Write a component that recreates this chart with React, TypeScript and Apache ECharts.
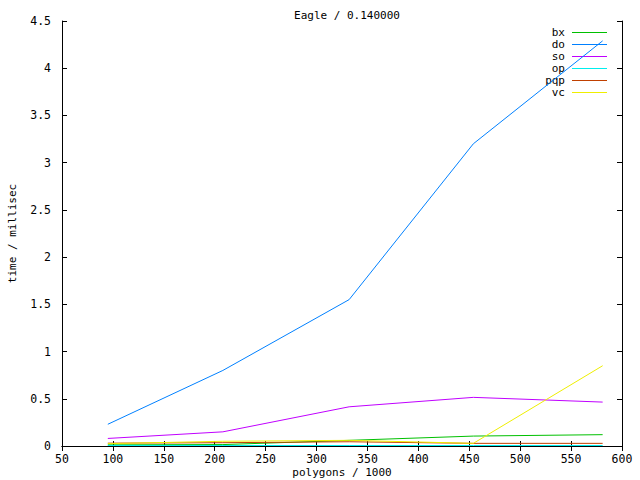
import React, { useEffect, useRef } from "react";
import * as echarts from "echarts";

const polygons = [95, 208, 332, 454, 581];
const bxTimes = [0.012, 0.015, 0.06, 0.105, 0.12];
const doTimes = [0.23, 0.8, 1.55, 3.2, 4.29];
const soTimes = [0.08, 0.15, 0.415, 0.515, 0.465];
const opTimes = [0.005, 0.005, 0.005, 0.005, 0.005];
const pqpTimes = [0.03, 0.035, 0.045, 0.028, 0.028];
const vcTimes = [0.025, 0.05, 0.06, 0.028, 0.85];

const seriesNames = ["bx", "do", "so", "op", "pqp", "vc"];
const seriesValues = [bxTimes, doTimes, soTimes, opTimes, pqpTimes, vcTimes];
const seriesColors = ["#00c000", "#0080ff", "#c000ff", "#00eeee", "#c04000", "#eeee00"];

const FONT = "DejaVu Sans Mono";

export default function App() {
  const ref = useRef<HTMLDivElement>(null);
  useEffect(() => {
    if (!ref.current) return;
    const chart = echarts.init(ref.current, null, { renderer: "svg" });
    const axisCommon = {
      axisLine: { show: true, lineStyle: { color: "#000", width: 1 } },
      axisTick: { show: true, inside: true, length: 5, lineStyle: { color: "#000" } },
      splitLine: { show: false },
    };
    const legendGraphics: any[] = [];
    seriesNames.forEach((n, i) => {
      const y = 32.5 + i * 12;
      legendGraphics.push({
        type: "text",
        x: 565,
        y,
        style: {
          text: n,
          font: `11px "${FONT}"`,
          lineHeight: 11,
          fill: "#000",
          textAlign: "right",
          textVerticalAlign: "middle",
        },
      });
      legendGraphics.push({
        type: "line",
        shape: { x1: 572, y1: y, x2: 607, y2: y },
        style: { stroke: seriesColors[i], lineWidth: 1 },
      });
    });
    chart.setOption({
      animation: false,
      backgroundColor: "#fff",
      title: {
        text: "Eagle / 0.140000",
        left: 342,
        top: 4,
        textAlign: "center",
        textStyle: { fontFamily: FONT, fontSize: 11, lineHeight: 12, fontWeight: "normal", color: "#000" },
      },
      grid: { left: 62, top: 21, width: 560, height: 425, outerBoundsMode: "none", containLabel: false },
      xAxis: [
        {
          type: "value",
          min: 50,
          max: 600,
          interval: 50,
          position: "bottom",
          name: "polygons / 1000",
          nameLocation: "middle",
          nameGap: 20,
          nameMoveOverlap: false,
          nameTextStyle: { fontFamily: FONT, fontSize: 11, lineHeight: 12, color: "#000", verticalAlign: "top" },
          axisLabel: { fontFamily: FONT, fontSize: 11.5, color: "#000", margin: 7 },
          ...axisCommon,
        },
        {
          type: "value",
          min: 50,
          max: 600,
          interval: 50,
          position: "top",
          axisLabel: { show: false },
          ...axisCommon,
        },
      ],
      yAxis: [
        {
          type: "value",
          min: 0,
          max: 4.5,
          interval: 0.5,
          position: "left",
          name: "time / millisec",
          nameLocation: "middle",
          nameGap: 44,
          nameMoveOverlap: false,
          nameRotate: 90,
          nameTextStyle: { fontFamily: FONT, fontSize: 11, lineHeight: 12, color: "#000" },
          axisLabel: { fontFamily: FONT, fontSize: 11.5, color: "#000", margin: 11 },
          ...axisCommon,
        },
        {
          type: "value",
          min: 0,
          max: 4.5,
          interval: 0.5,
          position: "right",
          axisLabel: { show: false },
          ...axisCommon,
        },
      ],
      series: seriesNames.map((n, i) => ({
        name: n,
        type: "line",
        xAxisIndex: 0,
        yAxisIndex: 0,
        symbol: "none",
        data: polygons.map((x, j) => [x, seriesValues[i][j]]),
        lineStyle: { color: seriesColors[i], width: 1 },
        itemStyle: { color: seriesColors[i] },
      })),
      graphic: legendGraphics,
    });
    return () => chart.dispose();
  }, []);
  return (
    <div
      ref={ref}
      style={{ position: "fixed", left: 0, top: 0, width: 640, height: 480 }}
    />
  );
}
